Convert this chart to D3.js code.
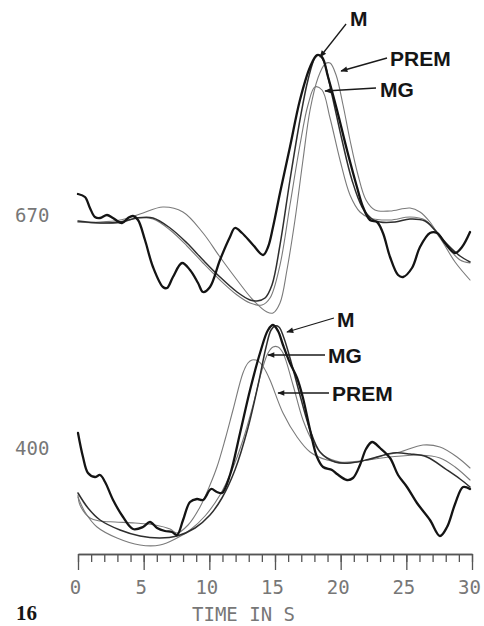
<!DOCTYPE html>
<html>
<head>
<meta charset="utf-8">
<script src="https://cdn.jsdelivr.net/npm/d3@7/dist/d3.min.js"></script>
<style>
  html, body { margin: 0; padding: 0; background: #fff; }
  svg { display: block; }
</style>
</head>
<body>
<svg id="chart" width="484" height="626"></svg>
<script>
// ---- Panel 670: observed waveform and three synthetics (time in s, relative amplitude)
const p670ObsT   = [0, 0.53, 0.91, 1.29, 1.68, 2.21, 2.66, 3.35, 3.81, 4.19, 4.57, 5.10, 5.71, 6.47, 6.78, 7.23, 7.92, 8.53, 9.14, 9.52, 10.05, 10.81, 11.57, 11.95, 12.49, 13.33, 14.09, 14.47, 14.85, 15.38, 16.14, 16.90, 17.67, 18.20, 18.58, 19.04, 19.72, 20.48, 21.24, 21.70, 22.23, 22.77, 23.22, 23.76, 24.37, 24.75, 25.43, 26.04, 26.80, 27.34, 27.94, 28.71, 29.24, 29.85];
const p670ObsAmp = [0.21, 0.18, 0.07, -0.02, -0.03, 0.00, -0.03, -0.08, -0.03, -0.01, -0.05, -0.25, -0.52, -0.72, -0.73, -0.62, -0.48, -0.55, -0.68, -0.77, -0.72, -0.45, -0.22, -0.13, -0.18, -0.30, -0.40, -0.32, -0.12, 0.22, 0.68, 1.15, 1.48, 1.60, 1.58, 1.38, 1.05, 0.65, 0.28, 0.08, -0.05, -0.07, -0.18, -0.42, -0.60, -0.62, -0.53, -0.32, -0.18, -0.18, -0.28, -0.38, -0.32, -0.17];

const p670MT   = [0, 1.68, 3.20, 4.49, 5.71, 7.01, 8.30, 9.52, 10.81, 12.11, 13.10, 13.63, 14.24, 14.77, 15.38, 16.14, 16.90, 17.51, 18.04, 18.35, 18.73, 19.34, 20.10, 20.86, 21.63, 22.39, 22.99, 24.14, 25.28, 26.42, 27.18, 28.17, 29.09, 29.85];
const p670MAmp = [-0.06, -0.08, -0.07, -0.03, -0.03, -0.13, -0.28, -0.45, -0.62, -0.77, -0.85, -0.86, -0.83, -0.70, -0.30, 0.35, 0.95, 1.35, 1.57, 1.60, 1.53, 1.20, 0.75, 0.35, 0.08, -0.04, -0.07, -0.07, -0.04, -0.06, -0.15, -0.30, -0.41, -0.47];

const p670PremT   = [0, 1.68, 3.20, 4.72, 6.47, 7.99, 9.52, 10.81, 12.11, 13.33, 14.39, 14.85, 15.38, 15.91, 16.52, 17.13, 17.67, 18.27, 18.81, 19.19, 19.65, 20.18, 20.71, 21.32, 21.93, 22.61, 23.76, 25.28, 26.04, 26.80, 27.56, 28.33, 29.09, 29.85];
const p670PremAmp = [-0.07, -0.07, -0.05, 0.01, 0.08, 0.03, -0.18, -0.42, -0.65, -0.85, -0.97, -0.98, -0.88, -0.55, -0.05, 0.55, 1.05, 1.37, 1.51, 1.52, 1.40, 1.10, 0.75, 0.40, 0.15, 0.05, 0.04, 0.07, 0.03, -0.07, -0.22, -0.35, -0.45, -0.48];

const p670MgT   = [0, 1.68, 3.20, 4.49, 5.71, 7.01, 8.30, 9.52, 10.81, 12.11, 13.10, 14.01, 14.62, 15.38, 16.14, 16.90, 17.51, 18.04, 18.58, 19.19, 19.95, 20.71, 21.47, 22.23, 23.76, 25.28, 26.42, 27.56, 28.71, 29.85];
const p670MgAmp = [-0.07, -0.08, -0.08, -0.03, -0.04, -0.15, -0.31, -0.48, -0.65, -0.80, -0.88, -0.90, -0.83, -0.50, 0.10, 0.70, 1.10, 1.28, 1.25, 0.97, 0.55, 0.20, 0.03, -0.03, -0.05, -0.02, -0.05, -0.23, -0.47, -0.65];

// ---- Panel 400
const p400ObsT   = [0, 0.38, 0.76, 1.29, 1.68, 2.06, 2.67, 3.43, 4.19, 4.95, 5.48, 6.02, 6.62, 7.16, 7.54, 8.00, 8.53, 9.06, 9.52, 10.13, 10.58, 10.96, 11.57, 12.34, 13.10, 13.86, 14.47, 14.85, 15.23, 15.61, 16.14, 16.68, 17.13, 17.67, 18.20, 18.66, 19.34, 19.72, 20.48, 20.94, 21.47, 21.93, 22.39, 23.00, 23.76, 24.37, 25.05, 25.81, 26.80, 27.56, 28.10, 28.71, 29.32, 29.85];
const p400ObsAmp = [0.15, -0.09, -0.25, -0.29, -0.27, -0.34, -0.52, -0.69, -0.81, -0.79, -0.74, -0.80, -0.83, -0.84, -0.87, -0.72, -0.54, -0.51, -0.52, -0.41, -0.44, -0.45, -0.27, 0.15, 0.58, 0.95, 1.18, 1.23, 1.17, 1.03, 0.85, 0.70, 0.50, 0.18, -0.09, -0.19, -0.22, -0.26, -0.32, -0.30, -0.17, -0.01, 0.06, 0.00, -0.10, -0.27, -0.39, -0.55, -0.72, -0.88, -0.79, -0.56, -0.39, -0.41];

const p400MT   = [0, 0.76, 1.68, 3.20, 4.72, 6.24, 7.54, 8.91, 10.05, 10.96, 11.95, 12.94, 13.71, 14.32, 14.70, 15.00, 15.30, 15.68, 16.29, 16.90, 17.67, 18.43, 19.57, 20.71, 22.23, 23.99, 25.28, 26.57, 28.10, 29.09, 29.85];
const p400MAmp = [-0.45, -0.60, -0.72, -0.82, -0.88, -0.90, -0.88, -0.80, -0.67, -0.50, -0.22, 0.20, 0.63, 1.01, 1.18, 1.22, 1.21, 1.10, 0.83, 0.53, 0.18, -0.04, -0.14, -0.15, -0.11, -0.05, -0.06, -0.09, -0.22, -0.31, -0.39];

const p400PremT   = [0, 0.15, 0.91, 1.68, 2.82, 4.34, 5.86, 7.01, 7.54, 8.38, 9.29, 10.05, 10.58, 11.19, 11.80, 12.56, 12.94, 13.25, 13.71, 14.16, 14.62, 15.61, 16.68, 17.67, 18.96, 20.71, 22.01, 23.38, 24.52, 26.27, 27.56, 28.86, 29.85];
const p400PremAmp = [-0.47, -0.57, -0.70, -0.73, -0.74, -0.75, -0.77, -0.81, -0.85, -0.77, -0.59, -0.37, -0.19, 0.08, 0.38, 0.75, 0.85, 0.88, 0.87, 0.80, 0.68, 0.35, 0.11, -0.04, -0.12, -0.15, -0.12, -0.07, -0.04, 0.03, 0.01, -0.09, -0.20];

const p400MgT   = [0, 0.53, 1.45, 2.97, 4.72, 6.24, 7.54, 8.53, 9.67, 10.81, 11.73, 12.56, 13.33, 14.01, 14.47, 14.85, 15.23, 15.61, 16.37, 17.13, 17.89, 18.66, 19.95, 21.47, 23.76, 26.04, 27.56, 28.71, 29.85];
const p400MgAmp = [-0.49, -0.64, -0.79, -0.90, -0.97, -0.97, -0.90, -0.82, -0.68, -0.47, -0.22, 0.08, 0.43, 0.78, 0.95, 1.01, 1.01, 0.95, 0.63, 0.28, 0.06, -0.07, -0.14, -0.13, -0.09, -0.07, -0.10, -0.19, -0.32];

// ---- Model labels: arrow tip, arrow tail and text position (time, amplitude)
const p670Labels = ["M", "PREM", "MG"];
const p670Tips   = [[18.43, 1.58], [20.03, 1.44], [18.81, 1.24]];
const p670Tails  = [[20.41, 1.91], [23.53, 1.57], [22.69, 1.27]];
const p670Texts  = [[20.71, 1.89], [23.76, 1.49], [23.00, 1.18]];

const p400Labels = ["M", "MG", "PREM"];
const p400Tips   = [[15.91, 1.16], [14.47, 0.93], [15.23, 0.55]];
const p400Tails  = [[19.49, 1.30], [18.81, 0.93], [19.11, 0.55]];
const p400Texts  = [[19.72, 1.21], [19.04, 0.85], [19.34, 0.47]];

// ---- Axis
const timeDomain = [0, 30];
const majorTicks = [0, 5, 10, 15, 20, 25, 30];
const minorTicks = d3.range(0, 31, 1);
const axisTitle = "TIME IN S";
const panelNames = ["670", "400"];
const figureNumber = "16";

const svg = d3.select("#chart");

const x = d3.scaleLinear().domain(timeDomain).range([78, 472]);
const y670 = d3.scaleLinear().domain([-1.2, 1.8]).range([335, 35]);
const y400 = d3.scaleLinear().domain([-1.2, 1.4]).range([568, 308]);

svg.append("defs").append("marker")
  .attr("id", "arrowHead")
  .attr("viewBox", "0 0 10 10")
  .attr("refX", 9).attr("refY", 5)
  .attr("markerUnits", "userSpaceOnUse")
  .attr("markerWidth", 9).attr("markerHeight", 7)
  .attr("orient", "auto")
  .append("path")
  .attr("d", "M0,1 L10,5 L0,9 Z")
  .attr("fill", "#1a1a1a");

function drawPanel(yScale, traces, labels, tips, tails, texts, name) {
  const g = svg.append("g");
  const line = d3.line()
    .x(d => x(d[0]))
    .y(d => yScale(d[1]))
    .curve(d3.curveCatmullRom.alpha(0.5));

  traces.forEach(tr => {
    const pts = tr.t.map((t, i) => [t, tr.a[i]]);
    g.append("path")
      .attr("d", line(pts))
      .attr("fill", "none")
      .attr("stroke", tr.color)
      .attr("stroke-width", tr.width)
      .attr("stroke-linejoin", "round")
      .attr("stroke-linecap", "round");
  });

  labels.forEach((lab, i) => {
    g.append("line")
      .attr("x1", x(tails[i][0])).attr("y1", yScale(tails[i][1]))
      .attr("x2", x(tips[i][0])).attr("y2", yScale(tips[i][1]))
      .attr("stroke", "#1a1a1a")
      .attr("stroke-width", 1.3)
      .attr("marker-end", "url(#arrowHead)");
    g.append("text")
      .attr("x", x(texts[i][0]))
      .attr("y", yScale(texts[i][1]))
      .attr("font-family", "'Liberation Sans', Arial, sans-serif")
      .attr("font-weight", "bold")
      .attr("font-size", 21)
      .attr("fill", "#151515")
      .text(lab);
  });

  g.append("text")
    .attr("x", 15)
    .attr("y", yScale(0) + 7)
    .attr("font-family", "'DejaVu Sans Mono', monospace")
    .attr("font-size", 19)
    .attr("fill", "#777")
    .text(name);
}

const obsColor = "#141414", mColor = "#2e2e2e", synthColor = "#7a7a7a";

drawPanel(y670, [
  { t: p670PremT, a: p670PremAmp, color: synthColor, width: 1.1 },
  { t: p670MgT,   a: p670MgAmp,   color: synthColor, width: 1.1 },
  { t: p670MT,    a: p670MAmp,    color: mColor,     width: 1.5 },
  { t: p670ObsT,  a: p670ObsAmp,  color: obsColor,   width: 2.3 }
], p670Labels, p670Tips, p670Tails, p670Texts, panelNames[0]);

drawPanel(y400, [
  { t: p400PremT, a: p400PremAmp, color: synthColor, width: 1.1 },
  { t: p400MgT,   a: p400MgAmp,   color: synthColor, width: 1.1 },
  { t: p400MT,    a: p400MAmp,    color: mColor,     width: 1.5 },
  { t: p400ObsT,  a: p400ObsAmp,  color: obsColor,   width: 2.3 }
], p400Labels, p400Tips, p400Tails, p400Texts, panelNames[1]);

// Time axis: minor ticks every second, major (labelled) every 5 s
const axisY = 554;
const minorAxis = svg.append("g")
  .attr("transform", `translate(0,${axisY})`)
  .call(d3.axisBottom(x).tickValues(minorTicks).tickSize(8).tickSizeOuter(0).tickFormat(""));
const majorAxis = svg.append("g")
  .attr("transform", `translate(0,${axisY})`)
  .call(d3.axisBottom(x).tickValues(majorTicks).tickSize(16).tickSizeOuter(0).tickPadding(11));

[minorAxis, majorAxis].forEach(a => {
  a.selectAll("path, line").attr("stroke", "#555").attr("stroke-width", 1.3);
});
majorAxis.selectAll("text")
  .attr("font-family", "'DejaVu Sans Mono', monospace")
  .attr("font-size", 19)
  .attr("dx", -3)
  .attr("fill", "#777");

svg.append("text")
  .attr("x", x(12.6))
  .attr("y", 621)
  .attr("text-anchor", "middle")
  .attr("font-family", "'DejaVu Sans Mono', monospace")
  .attr("font-size", 19)
  .attr("fill", "#777")
  .text(axisTitle);

svg.append("text")
  .attr("x", 16)
  .attr("y", 620)
  .attr("font-family", "'Liberation Serif', 'Times New Roman', serif")
  .attr("font-weight", "bold")
  .attr("font-size", 21)
  .attr("fill", "#151515")
  .text(figureNumber);
</script>
</body>
</html>
